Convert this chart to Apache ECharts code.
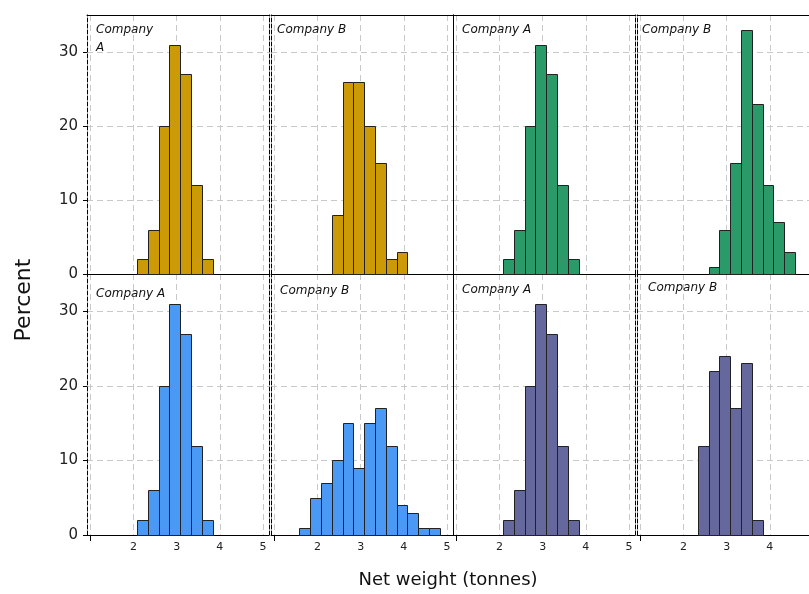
<!DOCTYPE html>
<html>
<head>
<meta charset="utf-8">
<script src="https://cdn.jsdelivr.net/npm/echarts@6/dist/echarts.min.js"></script>
<style>html,body{margin:0;padding:0;background:#fff}#c{width:809px;height:594px}</style>
</head>
<body>
<div id="c"></div>
<script>
// ---- data ----
const binWidth = 0.25;
const yTicks = [0, 10, 20, 30];
const xTickLabels = [2, 3, 4, 5];
const panelLabels = ['Company\nA', 'Company B', 'Company A', 'Company B',
                     'Company A', 'Company B', 'Company A', 'Company B'];
const panelColors = ['#CC9A06', '#CC9A06', '#2A9A69', '#2A9A69',
                     '#4A9AF5', '#4A9AF5', '#65689C', '#65689C'];
// top row
const binsA_gold   = [2.08, 2.33, 2.58, 2.83, 3.08, 3.33, 3.58];
const pctA_gold    = [2, 6, 20, 31, 27, 12, 2];
const binsB_gold   = [2.33, 2.58, 2.83, 3.08, 3.33, 3.58, 3.83];
const pctB_gold    = [8, 26, 26, 20, 15, 2, 3];
const binsA_green  = [2.08, 2.33, 2.58, 2.83, 3.08, 3.33, 3.58];
const pctA_green   = [2, 6, 20, 31, 27, 12, 2];
const binsB_green  = [2.58, 2.83, 3.08, 3.33, 3.58, 3.83, 4.08, 4.33];
const pctB_green   = [1, 6, 15, 33, 23, 12, 7, 3];
// bottom row
const binsA_blue   = [2.08, 2.33, 2.58, 2.83, 3.08, 3.33, 3.58];
const pctA_blue    = [2, 6, 20, 31, 27, 12, 2];
const binsB_blue   = [1.58, 1.83, 2.08, 2.33, 2.58, 2.83, 3.08, 3.33, 3.58, 3.83, 4.08, 4.33, 4.58];
const pctB_blue    = [1, 5, 7, 10, 15, 9, 15, 17, 12, 4, 3, 1, 1];
const binsA_purple = [2.08, 2.33, 2.58, 2.83, 3.08, 3.33, 3.58];
const pctA_purple  = [2, 6, 20, 31, 27, 12, 2];
const binsB_purple = [2.33, 2.58, 2.83, 3.08, 3.33, 3.58];
const pctB_purple  = [12, 22, 24, 17, 23, 2];

const panelBins = [binsA_gold, binsB_gold, binsA_green, binsB_green,
                   binsA_blue, binsB_blue, binsA_purple, binsB_purple];
const panelPct  = [pctA_gold, pctB_gold, pctA_green, pctB_green,
                   pctA_blue, pctB_blue, pctA_purple, pctB_purple];

// ---- layout ----
const FONT = 'DejaVu Sans';
const xMin = 0.92, xMax = 5.14, yMin = 0, yMax = 35;
const colLeft = [87, 271, 453, 637];
const colWidth = 182;
const rowTop = [15, 274];
const rowHeight = [259, 261];
const leftStyle  = ['dashed', 'dashed', 'solid', 'dashed'];
const rightStyle = ['dashed', 'solid', 'dashed', 'dashed'];
const labelDx = [9, 6, 9, 5, 9, 9, 9, 11];
const labelDy = [6, 6, 6, 6, 11, 8, 7, 5];

const BLACK_DASH = [4, 2];
const GREY = '#c9c9c9';
const grid = [], xAxis = [], yAxis = [], series = [], graphic = [];

for (let r = 0; r < 2; r++) {
  for (let c = 0; c < 4; c++) {
    const i = r * 4 + c;
    grid.push({left: colLeft[c], top: rowTop[r], width: colWidth, height: rowHeight[r],
               containLabel: false, outerBoundsMode: 'none'});
    const gi = grid.length - 1;
    // bottom x axis with labels and vertical grid lines
    xAxis.push({
      type: 'value', gridIndex: gi, min: xMin, max: xMax, splitNumber: 4,
      axisLine: {show: true, onZero: false, lineStyle: {color: '#000', width: 1}},
      axisTick: {show: false},
      axisLabel: {show: r === 1, showMinLabel: false, showMaxLabel: false, margin: 7, fontSize: 11, fontFamily: FONT, color: '#222',
                  formatter: v => (xTickLabels.indexOf(v) >= 0 ? String(v) : '')},
      splitLine: {show: true, showMinLine: false, showMaxLine: false, lineStyle: {color: GREY, type: [6, 4]}}
    });
    const xi = xAxis.length - 1;
    if (r === 1) {
      // single tick mark at 1
      xAxis.push({
        type: 'value', gridIndex: gi, position: 'bottom', min: xMin, max: xMax,
        axisLine: {show: false, onZero: false},
        axisTick: {show: true, length: 6, customValues: [1], lineStyle: {color: '#000'}},
        axisLabel: {show: false}, splitLine: {show: false}
      });
    } else {
      xAxis.push({
        type: 'value', gridIndex: gi, position: 'top', min: xMin, max: xMax,
        axisLine: {show: true, onZero: false, lineStyle: {color: '#000', width: 1}},
        axisTick: {show: false}, axisLabel: {show: false}, splitLine: {show: false}
      });
    }
    // left y axis
    yAxis.push({
      type: 'value', gridIndex: gi, min: yMin, max: yMax, interval: 10,
      axisLine: {show: true, onZero: false, lineStyle: {color: '#000', width: 1, type: leftStyle[c] === 'dashed' ? BLACK_DASH : 'solid'}},
      axisTick: {show: c === 0, length: 4, lineStyle: {color: '#000'}},
      axisLabel: {show: c === 0, showMaxLabel: false, margin: 9, fontSize: 15, fontFamily: FONT, color: '#222'},
      splitLine: {show: true, showMinLine: false, showMaxLine: false, lineStyle: {color: GREY, type: [6, 4]}}
    });
    const yi = yAxis.length - 1;
    // right y axis (border)
    yAxis.push({
      type: 'value', gridIndex: gi, position: 'right', min: yMin, max: yMax, interval: 10,
      axisLine: {show: true, onZero: false, lineStyle: {color: '#000', width: 1, type: rightStyle[c] === 'dashed' ? BLACK_DASH : 'solid'}},
      axisTick: {show: false}, axisLabel: {show: false}, splitLine: {show: false}
    });
    const bins = panelBins[i], pct = panelPct[i], color = panelColors[i];
    series.push({
      type: 'custom', xAxisIndex: xi, yAxisIndex: yi,
      data: bins.map((b, k) => [b, pct[k]]),
      encode: {x: 0, y: 1},
      z: 3,
      renderItem: function (params, api) {
        const x0 = api.value(0), h = api.value(1);
        const p0 = api.coord([x0, h]);
        const p1 = api.coord([x0 + binWidth, 0]);
        return {
          type: 'rect',
          shape: {x: Math.round(p0[0]) + 0.5, y: Math.round(p0[1]) + 0.5,
                  width: Math.round(p1[0]) - Math.round(p0[0]), height: Math.round(p1[1]) - Math.round(p0[1])},
          style: {fill: color, stroke: '#222', lineWidth: 1}
        };
      }
    });
    graphic.push({
      type: 'text', left: colLeft[c] + labelDx[i], top: rowTop[r] + labelDy[i], z: 10,
      style: {text: panelLabels[i], font: 'italic 12px "' + FONT + '"', fill: '#111', lineHeight: 18}
    });
  }
}
graphic.push({
  type: 'text', x: 448, y: 580, z: 10,
  style: {text: 'Net weight (tonnes)', font: '18px "' + FONT + '"', fill: '#111', align: 'center', verticalAlign: 'middle'}
});
graphic.push({
  type: 'text', x: 24, y: 300, rotation: Math.PI / 2, z: 10,
  style: {text: 'Percent', font: '22px "' + FONT + '"', fill: '#111', align: 'center', verticalAlign: 'middle'}
});

const chart = echarts.init(document.getElementById('c'), null, {renderer: 'canvas'});
chart.setOption({
  animation: false,
  backgroundColor: '#fff',
  grid, xAxis, yAxis, series, graphic
});
</script>
</body>
</html>
